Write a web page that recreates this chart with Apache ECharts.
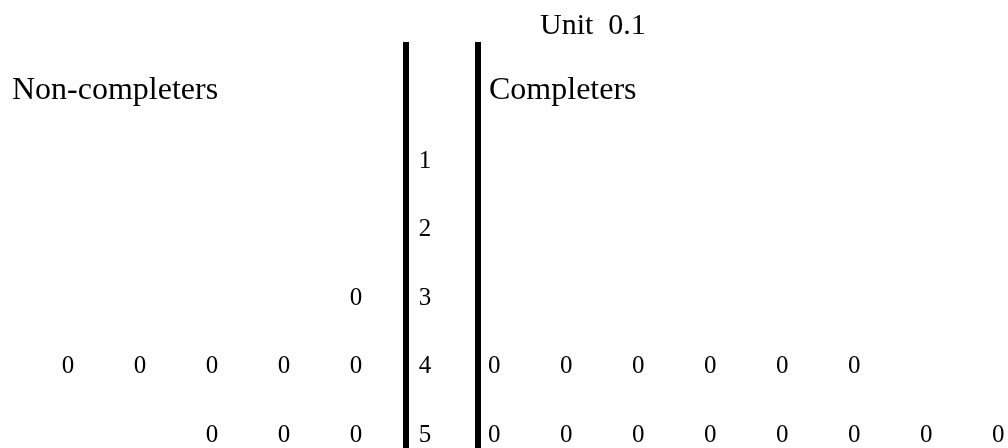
<!DOCTYPE html>
<html>
<head>
<meta charset="utf-8">
<script src="https://cdn.jsdelivr.net/npm/echarts@6/dist/echarts.min.js"></script>
<style>
  html, body { margin: 0; padding: 0; background: #fff; }
  #main { width: 1008px; height: 448px; }
</style>
</head>
<body>
<div id="main"></div>
<script>
// stem-and-leaf data, leaves listed from the stem outward
var stems = [1, 2, 3, 4, 5];
var nonCompleters = [[], [], [0], [0, 0, 0, 0, 0], [0, 0, 0]];
var completers = [[], [], [], [0, 0, 0, 0, 0, 0], [0, 0, 0, 0, 0, 0, 0, 0]];
var unitText = 'Unit  0.1';

var leafGap = 0.96;   // distance of the first leaf from the stem, in columns
var font = 'Liberation Serif, Times New Roman, serif';

var leftPoints = [];
var rightPoints = [];
stems.forEach(function (s, i) {
    nonCompleters[i].forEach(function (leaf, j) {
        leftPoints.push([-(j + leafGap), s, leaf]);
    });
    completers[i].forEach(function (leaf, j) {
        rightPoints.push([j + leafGap, s, leaf]);
    });
});
var stemPoints = stems.map(function (s) { return [0, s, s]; });

var myChart = echarts.init(document.getElementById('main'));

function labelStyle() {
    return {
        show: true,
        position: 'inside',
        formatter: function (p) { return String(p.value[2]); },
        fontFamily: font,
        fontSize: 25,
        fontWeight: 'normal',
        color: '#000',
        opacity: 1,
        textBorderWidth: 0
    };
}

function divider(x) {
    return [{ coord: [x, -0.737] }, { coord: [x, 5.19] }];
}

function leafSeries(name, data) {
    return {
        name: name,
        type: 'scatter',
        data: data,
        symbolSize: 1,
        itemStyle: { opacity: 0 },
        label: labelStyle(),
        silent: true
    };
}

var stemSeries = leafSeries('Stem', stemPoints);
stemSeries.markLine = {
    silent: true,
    symbol: 'none',
    label: { show: false },
    lineStyle: { color: '#000', width: 6, type: 'solid', opacity: 1 },
    data: [divider(-0.274), divider(0.726)]
};

var option = {
    animation: false,
    title: [{
        text: unitText, left: 540, top: 11, padding: 0,
        textStyle: { fontFamily: font, fontWeight: 'normal', fontSize: 30, color: '#000' }
    }, {
        text: 'Non-completers', left: 12, top: 75, padding: 0,
        textStyle: { fontFamily: font, fontWeight: 'normal', fontSize: 32, color: '#000' }
    }, {
        text: 'Completers', left: 489, top: 75, padding: 0,
        textStyle: { fontFamily: font, fontWeight: 'normal', fontSize: 32, color: '#000' }
    }],
    grid: { left: 0, right: 0, top: 0, bottom: 0 },
    xAxis: { type: 'value', min: -5.903, max: 8.097, show: false },
    yAxis: { type: 'value', min: -1.35, max: 5.19, inverse: true, show: false },
    series: [
        leafSeries('Non-completers', leftPoints),
        leafSeries('Completers', rightPoints),
        stemSeries
    ]
};

myChart.setOption(option);
</script>
</body>
</html>
